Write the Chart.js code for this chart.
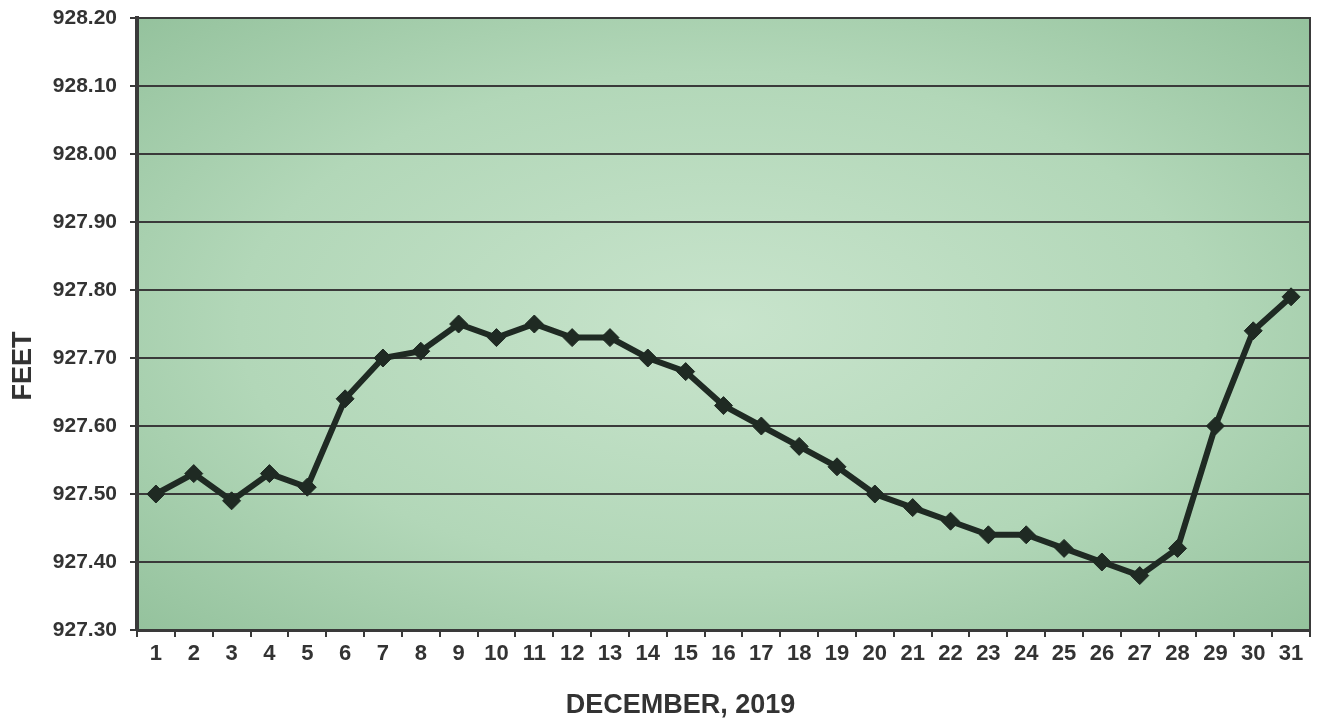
<!DOCTYPE html>
<html>
<head>
<meta charset="utf-8">
<script src="https://cdn.jsdelivr.net/npm/chart.js@4"></script>
<style>
  html, body { margin: 0; padding: 0; background: #fff; }
  #wrap { width: 1320px; height: 724px; }
</style>
</head>
<body>
<div id="wrap"><canvas id="levelChart" width="1320" height="724"></canvas></div>
<script>
// данные: уровень воды, декабрь 2019
const days = ['1','2','3','4','5','6','7','8','9','10','11','12','13','14','15','16',
              '17','18','19','20','21','22','23','24','25','26','27','28','29','30','31'];
const levels = [927.50, 927.53, 927.49, 927.53, 927.51, 927.64, 927.70, 927.71, 927.75, 927.73,
                927.75, 927.73, 927.73, 927.70, 927.68, 927.63, 927.60, 927.57, 927.54, 927.50,
                927.48, 927.46, 927.44, 927.44, 927.42, 927.40, 927.38, 927.42, 927.60, 927.74, 927.79];
const yMin = 927.30;
const yMax = 928.20;
const yStep = 0.10;
const xTitle = 'DECEMBER, 2019';
const yTitle = 'FEET';

const font = 'Liberation Sans, Arial, sans-serif';
const ink = '#333';

// фон области графика: зелёный градиент от центра, рамка и подписи осей
const plotDecor = {
    id: 'plotDecor',
    beforeDraw(chart) {
        const { ctx, chartArea: a } = chart;
        const cx = (a.left + a.right) / 2;
        const cy = (a.top + a.bottom) / 2;
        const w = a.right - a.left;
        const h = a.bottom - a.top;
        ctx.save();
        ctx.beginPath();
        ctx.rect(a.left, a.top, w, h);
        ctx.clip();
        ctx.translate(cx, cy);
        ctx.scale(w / h, 1);
        const g = ctx.createRadialGradient(0, 0, 0, 0, 0, h * 0.75);
        g.addColorStop(0, '#c8e4cc');
        g.addColorStop(0.55, '#b2d7b8');
        g.addColorStop(1, '#90bf99');
        ctx.fillStyle = g;
        ctx.fillRect(-w, -h, 2 * w, 2 * h);
        ctx.restore();
    },
    afterDatasetsDraw(chart) {
        const { ctx, chartArea: a } = chart;
        ctx.save();
        ctx.strokeStyle = '#3a3a3a';
        ctx.lineWidth = 2;
        ctx.strokeRect(a.left, a.top, a.right - a.left, a.bottom - a.top);
        ctx.restore();
    },
    afterDraw(chart) {
        const { ctx, chartArea: a } = chart;
        ctx.save();
        ctx.fillStyle = ink;
        ctx.font = 'bold 27px ' + font;
        ctx.textAlign = 'center';
        ctx.textBaseline = 'middle';
        ctx.fillText(xTitle, a.left + (a.right - a.left) * 0.4634, 706);
        ctx.translate(23, 366);
        ctx.rotate(-Math.PI / 2);
        ctx.fillText(yTitle, 0, 1);
        ctx.restore();
    }
};

new Chart(document.getElementById('levelChart').getContext('2d'), {
    type: 'line',
    data: {
        labels: days,
        datasets: [{
            data: levels,
            borderColor: '#1f2a23',
            backgroundColor: '#1f2a23',
            borderWidth: 6,
            pointStyle: 'rectRot',
            pointRadius: 9,
            pointBorderWidth: 1,
            tension: 0,
            fill: false
        }]
    },
    options: {
        responsive: false,
        animation: false,
        layout: { padding: { top: 18, right: 6, left: 0, bottom: 0 } },
        plugins: {
            legend: { display: false },
            tooltip: { enabled: false }
        },
        scales: {
            x: {
                offset: true,
                afterFit(s) { s.height = 94; s.paddingLeft = 0; s.paddingRight = 0; },
                grid: {
                    offset: true,
                    drawOnChartArea: false,
                    drawTicks: true,
                    tickLength: 7,
                    color: '#3a3a3a',
                    lineWidth: 2
                },
                border: { display: true, color: '#3a3a3a', width: 3 },
                ticks: {
                    color: ink,
                    font: { family: font, size: 22, weight: 'bold' },
                    padding: 4,
                    maxRotation: 0,
                    autoSkip: false
                }
            },
            y: {
                min: yMin,
                max: yMax,
                afterFit(s) { s.width = 137; s.paddingTop = 0; s.paddingBottom = 0; },
                afterBuildTicks(s) {
                    const t = [];
                    for (let i = 0; i <= Math.round((yMax - yMin) / yStep); i++) {
                        t.push({ value: +(yMin + i * yStep).toFixed(2) });
                    }
                    s.ticks = t;
                },
                grid: {
                    color: '#3a3a3a',
                    lineWidth: 2,
                    tickLength: 7
                },
                border: { display: true, color: '#3a3a3a', width: 4 },
                ticks: {
                    color: ink,
                    font: { family: font, size: 21, weight: 'bold' },
                    padding: 13,
                    callback: v => v.toFixed(2)
                }
            }
        }
    },
    plugins: [plotDecor]
});
</script>
</body>
</html>
